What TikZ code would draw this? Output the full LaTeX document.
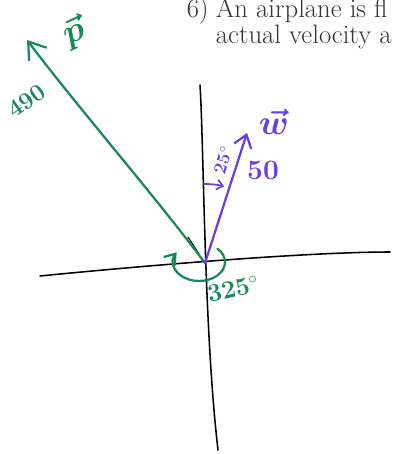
\documentclass[tikz,border=0pt]{standalone}
\usepackage{amsmath}
\usepackage{amssymb}
\usepackage{xcolor}
\usetikzlibrary{arrows.meta}
\definecolor{pgreen}{HTML}{178A57}
\definecolor{wpurple}{HTML}{6A3EE2}
\definecolor{qtext}{HTML}{333333}
\tikzset{
  axis/.style={black,line width=1.1pt,line cap=round},
  pvec/.style={pgreen,line width=1.6pt,line cap=round},
  wvec/.style={wpurple,line width=1.6pt,line cap=round},
  qline/.style={anchor=base west,text=qtext,font=\fontsize{19}{21}\selectfont},
}
\begin{document}
\begin{tikzpicture}[x=0.025cm,y=-0.025cm]
\useasboundingbox (0,0) rectangle (393,454);
\clip (0,0) rectangle (393,454);
% question text
\node[qline] (qnum) at (182,17) {6)};
\node[qline] (qone) at (211,17) {An airplane is fl};
\node[qline] (qtwo) at (211,43) {actual velocity a};
% axes
\coordinate (O) at (205,263);
\coordinate (C) at (199,262);
\draw[axis] (40,276) .. controls (120,268) and (300,252) .. (390,252);
\draw[axis] (200,85) .. controls (204,150) and (204,330) .. (218,450);
\draw[black,line width=0.8pt] (188,237) -- (199,254);
% vectors
\coordinate (Ptip) at (27,40);
\coordinate (Wtip) at (247,133);
\draw[pvec,-{Straight Barb[length=4mm,width=5.5mm]}] (O) .. controls (150,190) and (80,110) .. (Ptip);
\draw[wvec,-{Straight Barb[length=3mm,width=4.5mm]}] (O) -- (Wtip);
% angles
\draw[pvec,-{Straight Barb[length=2.5mm,width=3.5mm]}] (C) ++(-45:26 and 19)
  arc[start angle=-45,end angle=211,x radius=26,y radius=19];
\draw[wvec,line width=1.2pt,-{Straight Barb[length=1.5mm,width=2.5mm]}] (O) ++(-91:79)
  arc[start angle=-91,end angle=-76,radius=79];
% labels
\node[text=pgreen,rotate=25,font=\fontsize{28}{28}\selectfont] (plab) at (74,33) {$\boldsymbol{\vec{p}}$};
\node[text=pgreen,rotate=35,font=\fontsize{17}{17}\selectfont\bfseries] (pmag) at (27,101) {490};
\node[text=pgreen,rotate=12,font=\fontsize{18}{18}\selectfont\bfseries] (pang) at (233,289) {325$^\circ$};
\node[text=wpurple,font=\fontsize{28}{28}\selectfont] (wlab) at (274,122) {$\boldsymbol{\vec{w}}$};
\node[text=wpurple,font=\fontsize{20}{20}\selectfont\bfseries] (wmag) at (263,170) {50};
\node[text=wpurple,rotate=73,font=\fontsize{13}{13}\selectfont\bfseries] (wang) at (223,160) {25$^\circ$};
\end{tikzpicture}
\end{document}
